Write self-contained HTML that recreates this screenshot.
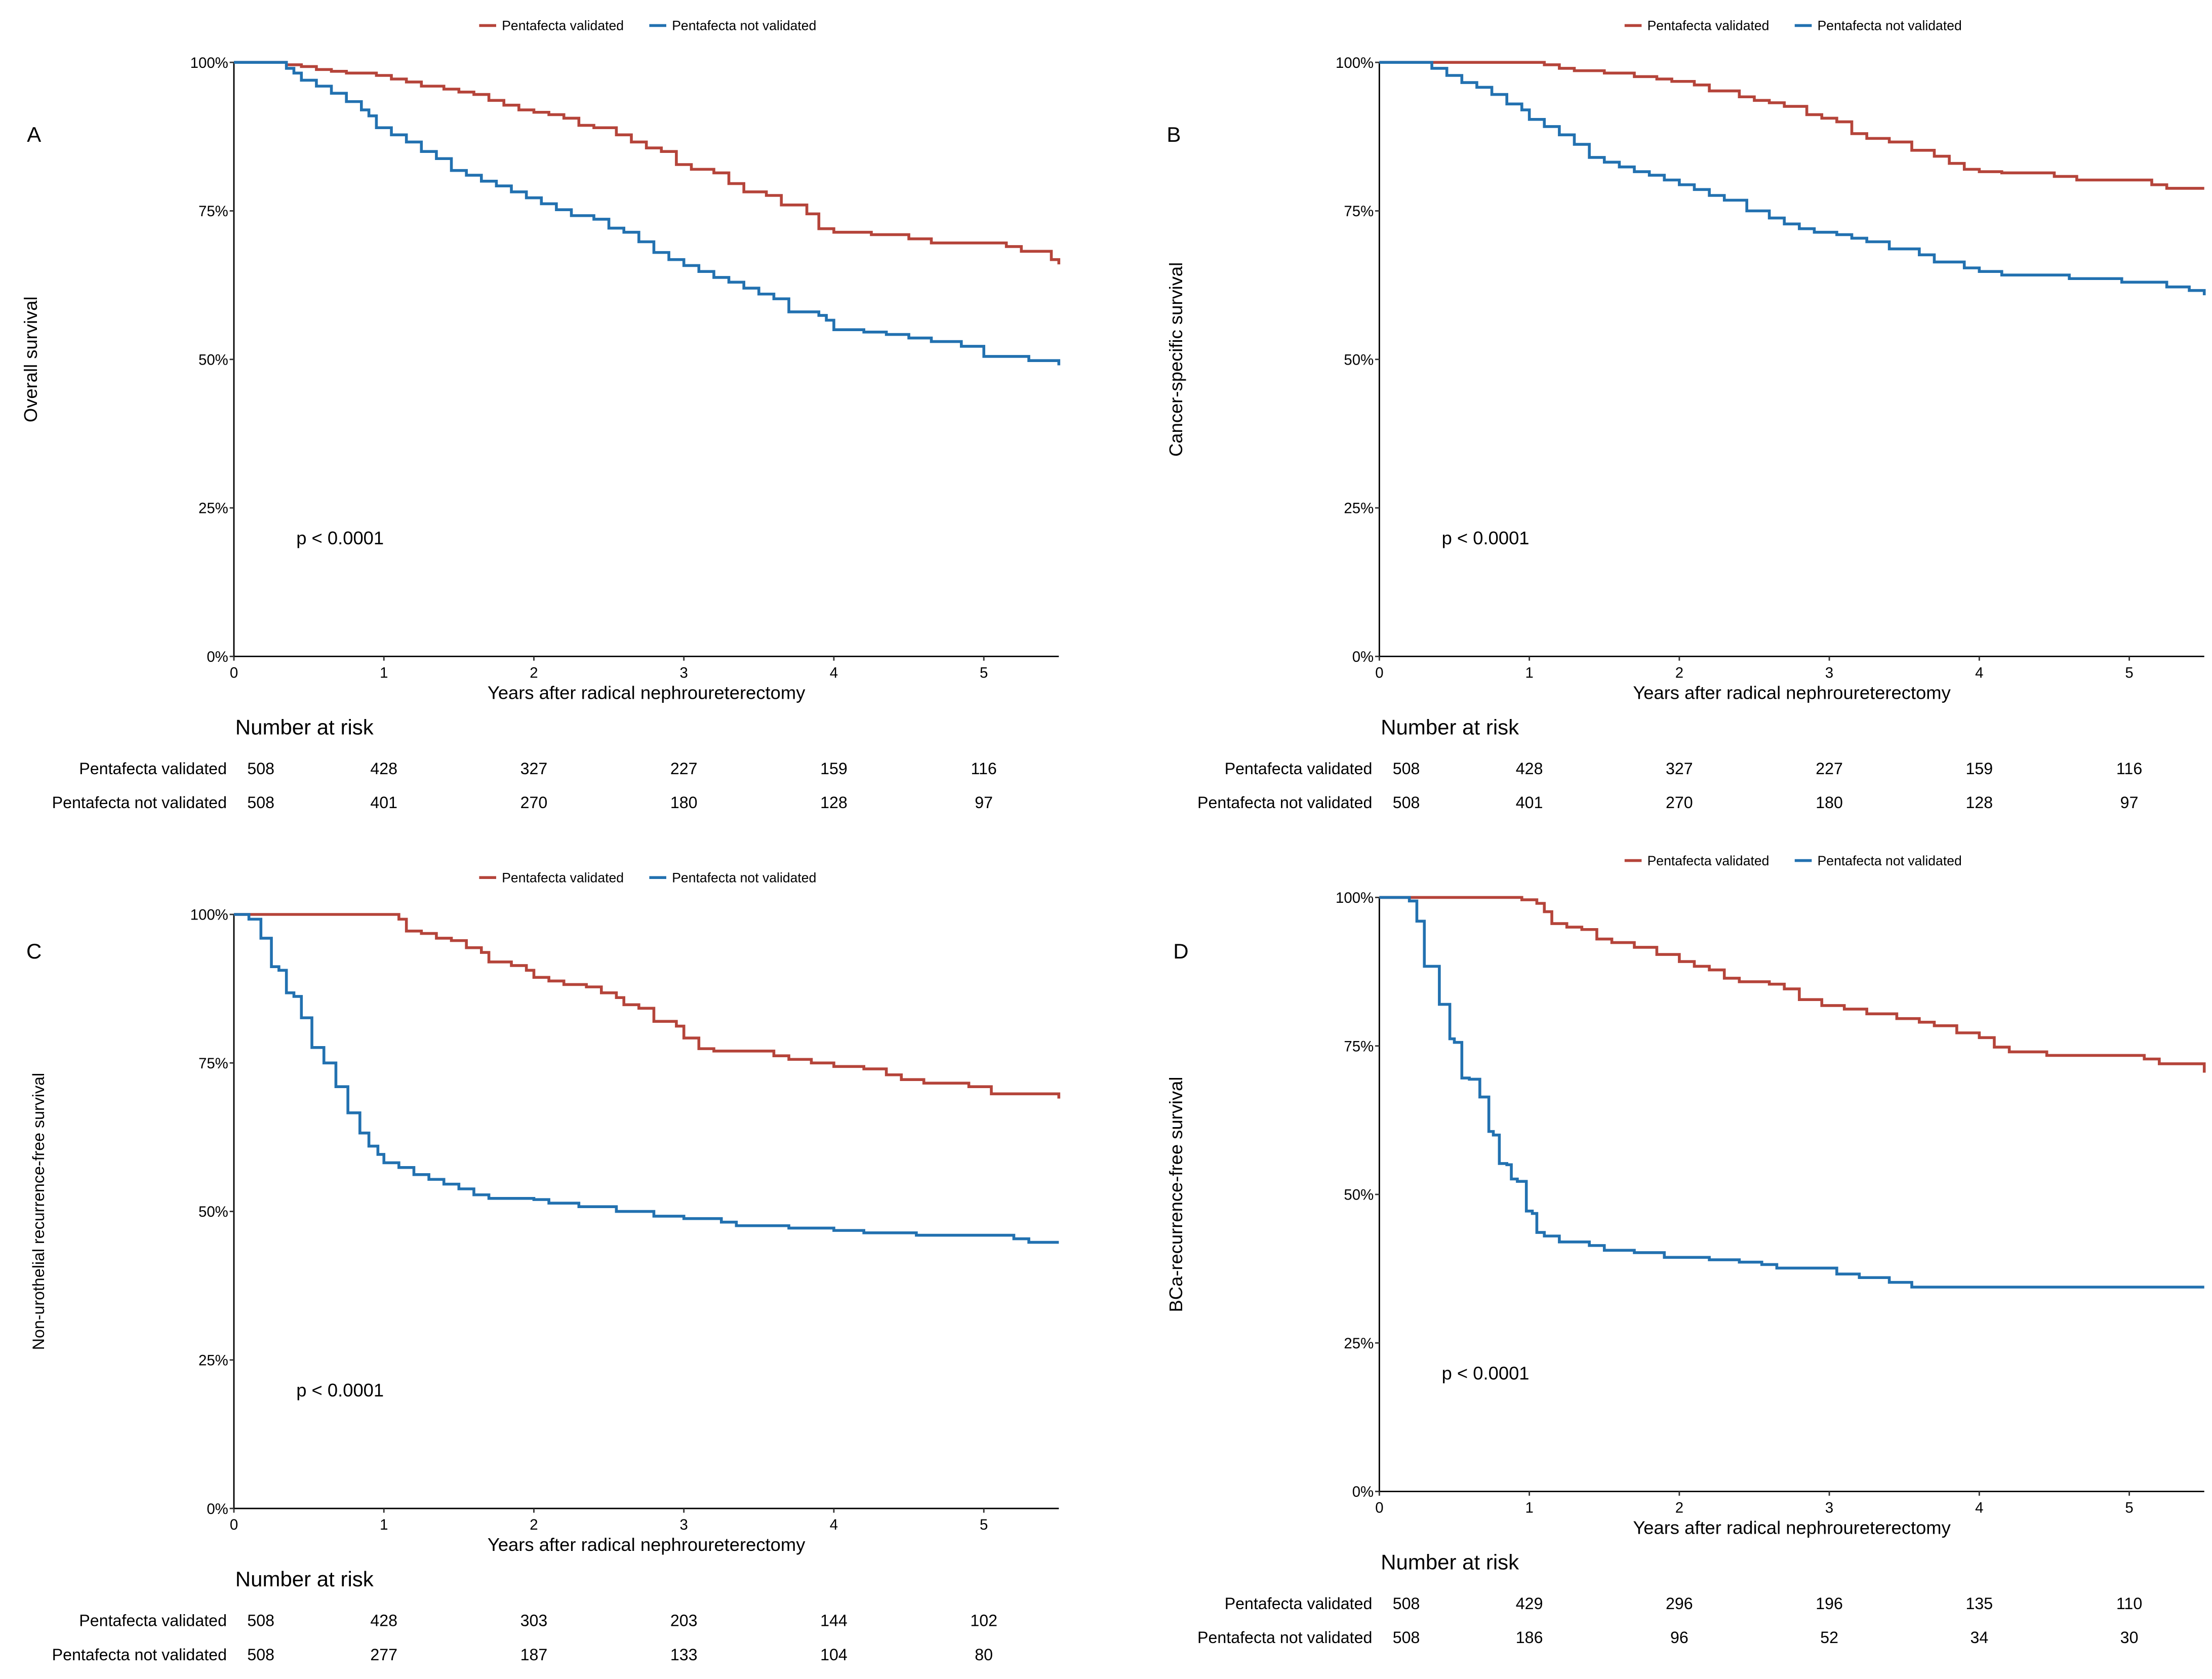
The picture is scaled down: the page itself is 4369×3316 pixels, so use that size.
<!DOCTYPE html>
<html><head><meta charset="utf-8"><style>
html,body{margin:0;padding:0;background:#fff}
svg{display:block}
text{font-family:"Liberation Sans",sans-serif;fill:#000}
.narrow{font-family:"Liberation Sans Narrow","Liberation Sans",sans-serif}
</style></head><body>
<svg id="fig" width="4369" height="3316" viewBox="0 0 1560.36 1184.29" xmlns="http://www.w3.org/2000/svg"></svg>
<script>
const xTicks=[0,1,2,3,4,5];
const yTicks=[0,25,50,75,100];
const yTickLabels=["0%","25%","50%","75%","100%"];
const seriesNames=["Pentafecta validated","Pentafecta not validated"];
const rowLabels=["Pentafecta validated","Pentafecta not validated"];
const riskA_val=[508,428,327,227,159,116];
const riskA_not=[508,401,270,180,128,97];
const riskB_val=[508,428,327,227,159,116];
const riskB_not=[508,401,270,180,128,97];
const riskC_val=[508,428,303,203,144,102];
const riskC_not=[508,277,187,133,104,80];
const riskD_val=[508,429,296,196,135,110];
const riskD_not=[508,186,96,52,34,30];
const aRedT=[0.35,0.45,0.55,0.65,0.75,0.95,1.05,1.15,1.25,1.4,1.5,1.6,1.7,1.8,1.9,2.0,2.1,2.2,2.3,2.4,2.55,2.65,2.75,2.85,2.95,3.05,3.2,3.3,3.4,3.55,3.65,3.82,3.9,4.0,4.25,4.5,4.65,5.15,5.25,5.45,5.5];
const aRedS=[99.6,99.3,98.8,98.5,98.2,97.8,97.2,96.7,96.0,95.5,95.0,94.6,93.6,92.8,92.0,91.6,91.2,90.6,89.4,89.0,87.8,86.6,85.6,85.0,82.8,82.0,81.4,79.6,78.2,77.6,76.0,74.5,72.0,71.4,71.0,70.3,69.6,69.0,68.2,66.8,66.0];
const aBlueT=[0.35,0.4,0.45,0.55,0.65,0.75,0.85,0.9,0.95,1.05,1.15,1.25,1.35,1.45,1.55,1.65,1.75,1.85,1.95,2.05,2.15,2.25,2.4,2.5,2.6,2.7,2.8,2.9,3.0,3.1,3.2,3.3,3.4,3.5,3.6,3.7,3.9,3.95,4.0,4.2,4.35,4.5,4.65,4.85,5.0,5.3,5.5];
const aBlueS=[99,98.2,97,96,94.8,93.4,92,91,89,87.8,86.6,85.0,83.8,81.8,81.0,80.0,79.2,78.2,77.2,76.2,75.2,74.2,73.6,72.1,71.4,69.8,68.0,66.8,65.8,64.8,63.8,63.0,62.0,61.0,60.2,58.0,57.4,56.6,55.0,54.6,54.2,53.6,53.0,52.2,50.5,49.8,49.0];
const bRedT=[1.1,1.2,1.3,1.5,1.7,1.85,1.95,2.1,2.2,2.4,2.5,2.6,2.7,2.85,2.95,3.05,3.15,3.25,3.4,3.55,3.7,3.8,3.9,4.0,4.15,4.5,4.65,5.15,5.25];
const bRedS=[99.6,99.0,98.6,98.2,97.6,97.2,96.8,96.2,95.2,94.2,93.6,93.2,92.6,91.2,90.6,90.0,88.0,87.2,86.6,85.2,84.2,83.0,82.0,81.6,81.4,80.8,80.2,79.4,78.8];
const bBlueT=[0.35,0.45,0.55,0.65,0.75,0.85,0.95,1.0,1.1,1.2,1.3,1.4,1.5,1.6,1.7,1.8,1.9,2.0,2.1,2.2,2.3,2.45,2.6,2.7,2.8,2.9,3.05,3.15,3.25,3.4,3.6,3.7,3.9,4.0,4.15,4.6,4.95,5.25,5.4,5.5];
const bBlueS=[99,97.8,96.6,95.8,94.6,93,92,90.4,89.2,87.8,86.2,84.0,83.2,82.4,81.6,81.0,80.2,79.4,78.6,77.6,76.8,75.0,73.8,72.8,72.0,71.4,71.0,70.4,69.8,68.6,67.6,66.4,65.4,64.8,64.2,63.6,63.0,62.2,61.6,60.8];
const cRedT=[1.1,1.15,1.25,1.35,1.45,1.55,1.65,1.7,1.85,1.95,2.0,2.1,2.2,2.35,2.45,2.55,2.6,2.7,2.8,2.95,3.0,3.1,3.2,3.6,3.7,3.85,4.0,4.2,4.35,4.45,4.6,4.9,5.05,5.5];
const cRedS=[99.2,97.2,96.8,96.0,95.6,94.4,93.6,92.0,91.4,90.6,89.4,88.8,88.2,87.8,86.8,86.0,84.8,84.2,82.0,81.2,79.2,77.4,77.0,76.2,75.6,75.0,74.4,74.0,73.0,72.2,71.6,71.0,69.8,69.0];
const cBlueT=[0.1,0.18,0.25,0.3,0.35,0.4,0.45,0.52,0.6,0.68,0.76,0.84,0.9,0.96,1.0,1.1,1.2,1.3,1.4,1.5,1.6,1.7,2.0,2.1,2.3,2.55,2.8,3.0,3.25,3.35,3.7,4.0,4.2,4.55,5.2,5.3];
const cBlueS=[99.2,96,91.2,90.6,86.8,86.2,82.6,77.6,75.0,71.0,66.6,63.2,61.0,59.6,58.2,57.4,56.2,55.4,54.6,53.8,52.8,52.2,52.0,51.4,50.8,50.0,49.2,48.8,48.2,47.6,47.2,46.8,46.4,46.0,45.4,44.8];
const dRedT=[0.95,1.05,1.1,1.15,1.25,1.35,1.45,1.55,1.7,1.85,2.0,2.1,2.2,2.3,2.4,2.6,2.7,2.8,2.95,3.1,3.25,3.45,3.6,3.7,3.85,4.0,4.1,4.2,4.45,5.1,5.2,5.5];
const dRedS=[99.6,99.0,97.6,95.6,95.0,94.6,93.0,92.4,91.6,90.4,89.2,88.4,87.8,86.4,85.8,85.4,84.6,82.8,81.8,81.2,80.4,79.6,79.0,78.4,77.2,76.4,74.8,74.0,73.4,72.8,72.0,70.5];
const dBlueT=[0.2,0.25,0.3,0.4,0.47,0.5,0.55,0.6,0.67,0.73,0.76,0.8,0.85,0.88,0.92,0.98,1.02,1.05,1.1,1.2,1.4,1.5,1.7,1.9,2.2,2.4,2.55,2.65,3.05,3.2,3.4,3.55];
const dBlueS=[99.4,96.0,88.4,82.0,76.2,75.6,69.6,69.4,66.4,60.6,60.0,55.2,55.0,52.6,52.2,47.2,46.8,43.6,43.0,42.0,41.4,40.6,40.2,39.4,39.0,38.6,38.2,37.6,36.6,36.0,35.2,34.4];

const NS="http://www.w3.org/2000/svg";
const svg=document.getElementById('fig');
const RED="#b5443a",BLUE="#2271b0";
function mk(tag,attrs,parent){const e=document.createElementNS(NS,tag);for(const k in attrs)e.setAttribute(k,attrs[k]);(parent||svg).appendChild(e);return e;}
function txt(s,attrs,parent){const e=mk('text',attrs,parent);e.textContent=s;return e;}

const panels=[
 {id:'a',letter:'A',x0:165,y0:44,lx:24,ly:95,ylab:'Overall survival',narrow:false,red:[aRedT,aRedS],blue:[aBlueT,aBlueS],rv:riskA_val,rn:riskA_not},
 {id:'b',letter:'B',x0:973,y0:44,lx:828,ly:95,ylab:'Cancer-specific survival',narrow:false,red:[bRedT,bRedS],blue:[bBlueT,bBlueS],rv:riskB_val,rn:riskB_not},
 {id:'c',letter:'C',x0:165,y0:645,lx:24,ly:671,ylab:'Non-urothelial recurrence-free survival',narrow:true,red:[cRedT,cRedS],blue:[cBlueT,cBlueS],rv:riskC_val,rn:riskC_not},
 {id:'d',letter:'D',x0:973,y0:633,lx:833,ly:671,ylab:'BCa-recurrence-free survival',narrow:false,red:[dRedT,dRedS],blue:[dBlueT,dBlueS],rv:riskD_val,rn:riskD_not}
];
const PW=105.8, PH=419, XMAX=5.5;

panels.forEach(p=>{
  const g=mk('g',{});
  
  
  const X=t=>p.x0+t*PW;
  const Y=s=>p.y0+PH*(1-s/100);
  // legend
  const lg=mk('g',{},g);
  
  
  const ly=p.y0-26;
  mk('line',{x1:p.x0+173,x2:p.x0+185,y1:ly,y2:ly,stroke:RED,'stroke-width':2},lg);
  const t1=txt(seriesNames[0],{x:p.x0+189,y:ly+3.3,'font-size':9.5},lg);
  
  
  mk('line',{x1:p.x0+293,x2:p.x0+305,y1:ly,y2:ly,stroke:BLUE,'stroke-width':2},lg);
  const t2=txt(seriesNames[1],{x:p.x0+309,y:ly+3.3,'font-size':9.5},lg);
  
  
  // letter
  const L=txt(p.letter,{x:p.lx,y:p.ly+5,'font-size':15,'text-anchor':'middle'},g);
  
  
  // y label
  const cx=p.letter==='A'||p.letter==='C'?(p.narrow?27:22):830;
  const cy=p.y0+PH/2;
  const yl=txt(p.ylab,{x:cx,y:cy,'font-size':p.narrow?11.5:13,'text-anchor':'middle',transform:`rotate(-90 ${cx} ${cy})`,dy:4,class:p.narrow?'narrow':''},g);
  
  
  // axes
  mk('line',{x1:p.x0,x2:p.x0,y1:p.y0,y2:p.y0+PH,stroke:'#000','stroke-width':1},g);
  mk('line',{x1:p.x0,x2:X(XMAX),y1:p.y0+PH,y2:p.y0+PH,stroke:'#000','stroke-width':1},g);
  yTicks.forEach((v,i)=>{
    mk('line',{x1:p.x0-3,x2:p.x0,y1:Y(v),y2:Y(v),stroke:'#333','stroke-width':1},g);
    const t=txt(yTickLabels[i],{x:p.x0-4,y:Y(v)+3.8,'font-size':10.5,'text-anchor':'end',fill:'#333'},g);
    
    
  });
  xTicks.forEach(v=>{
    mk('line',{x1:X(v),x2:X(v),y1:p.y0+PH,y2:p.y0+PH+3,stroke:'#333','stroke-width':1},g);
    const t=txt(String(v),{x:X(v),y:p.y0+PH+15,'font-size':10.5,'text-anchor':'middle',fill:'#333'},g);
    
    
  });
  const xt=txt('Years after radical nephroureterectomy',{x:X(XMAX)/2+p.x0/2,y:p.y0+PH+30,'font-size':13,'text-anchor':'middle'},g);
  
  
  // curves
  function curve(arr,col,name){
    const [T,S]=arr;
    let d=`M${X(0)},${Y(100)}`;let prev=100;
    T.forEach((t,i)=>{d+=`H${X(t)}V${Y(S[i])}`;prev=S[i];});
    d+=`H${X(XMAX)}`;
    const path=mk('path',{d:d,fill:'none',stroke:col,'stroke-width':2},g);
    
    
  }
  curve(p.red,RED,'curve-validated');
  curve(p.blue,BLUE,'curve-not-validated');
  const pv=txt('p < 0.0001',{x:p.x0+44,y:p.y0+340,'font-size':13},g);
  
  
  // risk table
  const nr=txt('Number at risk',{x:p.x0+1,y:p.y0+474,'font-size':15},g);
  
  
  [p.rv,p.rn].forEach((row,ri)=>{
    const yy=p.y0+502+ri*24;
    const rl=txt(rowLabels[ri],{x:p.x0-5,y:yy,'font-size':11.5,'text-anchor':'end'},g);
    
    
    row.forEach((n,i)=>{
      const xx=i===0?p.x0+19:X(xTicks[i]);
      const c=txt(String(n),{x:xx,y:yy,'font-size':11.5,'text-anchor':'middle'},g);
      
      
    });
  });
});
</script>
</body></html>
